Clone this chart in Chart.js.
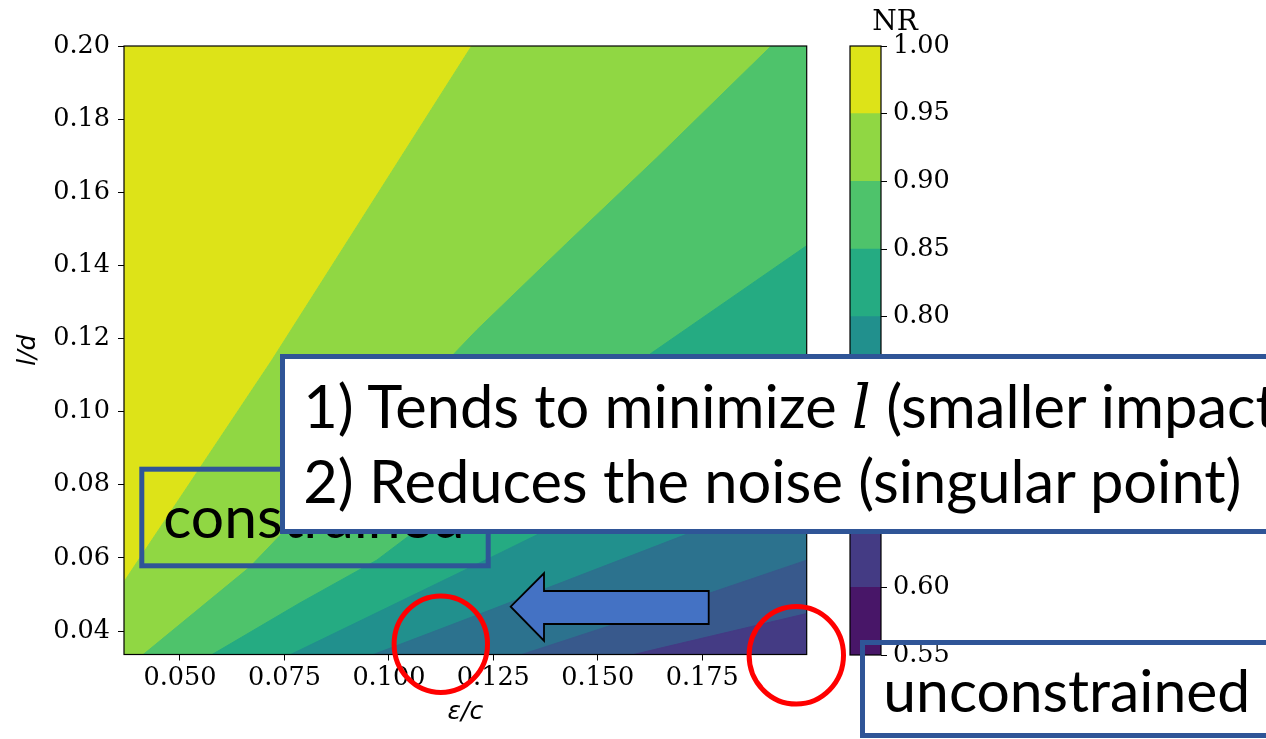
<!DOCTYPE html>
<html>
<head>
<meta charset="utf-8">
<script src="https://cdn.jsdelivr.net/npm/chart.js@4.4.1/dist/chart.umd.min.js"></script>
<style>
  html, body { margin: 0; padding: 0; background: #fff; }
  #stage { position: relative; width: 1266px; height: 739px; overflow: hidden; background: #fff; }
  #stage canvas, #stage svg { position: absolute; left: 0; top: 0; }
  .note { font-family: Lato, "Open Sans", sans-serif; fill: #000; }
</style>
</head>
<body>
<div id="stage">
  <canvas id="map" width="1266" height="739"></canvas>
  <canvas id="cbar" width="1266" height="739"></canvas>
  <svg id="notes" width="1266" height="739" xmlns="http://www.w3.org/2000/svg">
    <text x="895" y="30" font-family="DejaVu Serif" font-size="28" text-anchor="middle" fill="#000">NR</text>

    <rect x="141.8" y="469.2" width="346.4" height="96.6" fill="none" stroke="#2F5597" stroke-width="5"/>
    <text id="tCons" class="note" x="163.3" y="538.3">constrained</text>

    <rect x="282.5" y="356.5" width="1000" height="175" fill="#fff" stroke="#2F5597" stroke-width="5"/>
    <text id="tLine1" class="note" x="303.3" y="428.3">1) Tends to minimize <tspan font-family="DejaVu Serif" font-style="italic">l</tspan> (smaller impact)</text>
    <text id="tLine2" class="note" x="303.3" y="503.3">2) Reduces the noise (singular point)</text>

    <polygon points="510.7,606.7 544,573.3 544,591 708.7,591 708.7,624 544,624 544,640.7"
             fill="#4472C4" stroke="#000" stroke-width="1.8" stroke-linejoin="miter"/>

    <ellipse cx="440.8" cy="644.2" rx="46.7" ry="48.3" fill="none" stroke="#FF0000" stroke-width="5"/>
    <ellipse cx="796.3" cy="655.3" rx="47.2" ry="48.8" fill="none" stroke="#FF0000" stroke-width="5"/>

    <rect x="862.5" y="642.5" width="500" height="93" fill="none" stroke="#2F5597" stroke-width="5"/>
    <text id="tUncons" class="note" x="883.3" y="711.7">unconstrained</text>
  </svg>
</div>

<script>
// ---- axes ----
const xMin = 0.0366, xMax = 0.2;
const yMin = 0.0336, yMax = 0.2;
const xTicks = [0.050, 0.075, 0.100, 0.125, 0.150, 0.175];
const yTicks = [0.04, 0.06, 0.08, 0.10, 0.12, 0.14, 0.16, 0.18, 0.20];

// ---- NR contour levels and viridis band colours (one colour per band) ----
const levels = [0.55, 0.60, 0.65, 0.70, 0.75, 0.80, 0.85, 0.90, 0.95, 1.00];
const bandColors = ['#481668', '#443b84', '#38598c', '#2c728e', '#21908d',
                    '#25ab82', '#4ec36b', '#90d743', '#dde318'];

// ---- contour lines of NR, as (eps/c, l/d) vertices ----
const c065x = [0.0366, 0.1586, 0.1648, 0.2000];
const c065y = [-0.0100, 0.0336, 0.0353, 0.0448];

const c070x = [0.0366, 0.1318, 0.1768, 0.2000];
const c070y = [-0.0027, 0.0336, 0.0504, 0.0594];

const c075x = [0.0366, 0.0963, 0.1241, 0.1720, 0.2000];
const c075y = [0.0073, 0.0336, 0.0457, 0.0668, 0.0791];

const c080x = [0.0366, 0.0765, 0.1265, 0.1354, 0.2000];
const c080y = [0.0114, 0.0336, 0.0613, 0.0663, 0.1045];

const c085x = [0.0366, 0.0577, 0.0787, 0.0971, 0.1628, 0.2000];
const c085y = [0.0195, 0.0336, 0.0477, 0.0594, 0.1160, 0.1454];

const c090x = [0.0366, 0.0412, 0.0667, 0.1210, 0.1425, 0.1640, 0.1915, 0.2000];
const c090y = [0.0293, 0.0336, 0.0575, 0.1223, 0.1460, 0.1693, 0.2000, 0.2094];

const c095x = [0.0366, 0.0720, 0.1198, 0.2000];
const c095y = [0.0535, 0.1141, 0.2000, 0.3409];

const contourLines = [
  [0.65, c065x, c065y],
  [0.70, c070x, c070y],
  [0.75, c075x, c075y],
  [0.80, c080x, c080y],
  [0.85, c085x, c085y],
  [0.90, c090x, c090y],
  [0.95, c095x, c095y]
];

const toPoints = (xs, ys) => xs.map((x, i) => ({ x: x, y: ys[i] }));

// each line fills the band just below its level down to the axis;
// lower levels come first so they are painted last (on top)
const datasets = contourLines.map(([lev, xs, ys]) => {
  const col = bandColors[levels.indexOf(lev) - 1];
  return {
    label: 'NR ' + lev.toFixed(2),
    data: toPoints(xs, ys),
    fill: 'start',
    backgroundColor: col,
    borderColor: col,
    borderWidth: 1,
    pointRadius: 0,
    tension: 0
  };
});
// top band: above the highest contour line
datasets.push({
  label: 'NR 0.95-1.00',
  data: toPoints(c095x, c095y),
  fill: 'end',
  backgroundColor: bandColors[8],
  borderColor: bandColors[8],
  borderWidth: 1,
  pointRadius: 0,
  tension: 0
});

// black box round the plotting area
const frame = {
  id: 'frame',
  afterDatasetsDraw(chart) {
    const { ctx, chartArea: a } = chart;
    ctx.save();
    ctx.strokeStyle = '#000';
    ctx.lineWidth = 1.2;
    ctx.strokeRect(a.left, a.top, a.right - a.left, a.bottom - a.top);
    ctx.restore();
  }
};

const tickFont = { family: 'DejaVu Serif', size: 25.5 };
const tickColor = '#000';

new Chart(document.getElementById('map'), {
  type: 'line',
  data: { datasets },
  options: {
    responsive: false,
    animation: false,
    devicePixelRatio: 1,
    layout: { padding: { left: 0, top: 46, right: 459.3, bottom: 0 } },
    plugins: { legend: { display: false }, tooltip: { enabled: false } },
    scales: {
      x: {
        type: 'linear', min: xMin, max: xMax,
        afterFit(s) { s.height = 84.5; },
        afterBuildTicks(s) { s.ticks = xTicks.map(v => ({ value: v })); },
        border: { display: false },
        grid: { drawOnChartArea: false, drawTicks: true, tickLength: 6, tickColor: '#000', tickWidth: 1 },
        ticks: { padding: 3, color: tickColor, font: tickFont, maxRotation: 0, autoSkip: false,
                 callback: v => v.toFixed(3) },
        title: { display: true, text: 'ε/c', color: tickColor,
                 font: { family: 'DejaVu Sans', style: 'italic', size: 25 },
                 padding: { top: 0, bottom: 12 } }
      },
      y: {
        type: 'linear', min: yMin, max: yMax,
        afterFit(s) { s.width = 124; },
        afterBuildTicks(s) { s.ticks = yTicks.map(v => ({ value: v })); },
        border: { display: false },
        grid: { drawOnChartArea: false, drawTicks: true, tickLength: 6, tickColor: '#000', tickWidth: 1 },
        ticks: { padding: 8, color: tickColor, font: tickFont, autoSkip: false,
                 callback: v => v.toFixed(2) },
        title: { display: true, text: 'l/d', color: tickColor,
                 font: { family: 'DejaVu Sans', style: 'italic', size: 25 },
                 padding: { top: 13, bottom: 0 } }
      }
    }
  },
  plugins: [frame]
});

// ---- colour bar: one floating bar per band ----
const barSets = bandColors.map((col, i) => ({
  label: levels[i].toFixed(2) + '-' + levels[i + 1].toFixed(2),
  data: [[levels[i], levels[i + 1]]],
  backgroundColor: col,
  borderWidth: 0,
  grouped: false,
  barPercentage: 1,
  categoryPercentage: 1
}));

new Chart(document.getElementById('cbar'), {
  type: 'bar',
  data: { labels: ['NR'], datasets: barSets },
  options: {
    responsive: false,
    animation: false,
    devicePixelRatio: 1,
    layout: { padding: { left: 850, top: 46, right: 285, bottom: 84 } },
    plugins: { legend: { display: false }, tooltip: { enabled: false } },
    scales: {
      x: { display: false },
      y: {
        position: 'right', min: levels[0], max: levels[levels.length - 1],
        afterFit(s) { s.width = 100; },
        afterBuildTicks(s) { s.ticks = levels.map(v => ({ value: v })); },
        border: { display: false },
        grid: { drawOnChartArea: false, drawTicks: true, tickLength: 6, tickColor: '#000', tickWidth: 1 },
        ticks: { padding: 6, color: tickColor, font: tickFont, autoSkip: false,
                 callback: v => v.toFixed(2) }
      }
    }
  },
  plugins: [frame]
});

// ---- annotation text sizes: fitted to the widths of the callouts ----
(function sizeNotes() {
  const m = document.createElement('canvas').getContext('2d');
  const widthAt100 = (txt) => { m.font = '100px Lato'; return m.measureText(txt).width; };
  const line2 = '2) Reduces the noise (singular point)';
  const big = 940 / widthAt100(line2) * 100;
  const small = 366.7 / widthAt100('unconstrained') * 100;
  document.getElementById('tLine1').setAttribute('font-size', big.toFixed(1));
  document.getElementById('tLine2').setAttribute('font-size', big.toFixed(1));
  document.getElementById('tUncons').setAttribute('font-size', small.toFixed(1));
  document.getElementById('tCons').setAttribute('font-size', small.toFixed(1));
})();
</script>
</body>
</html>
